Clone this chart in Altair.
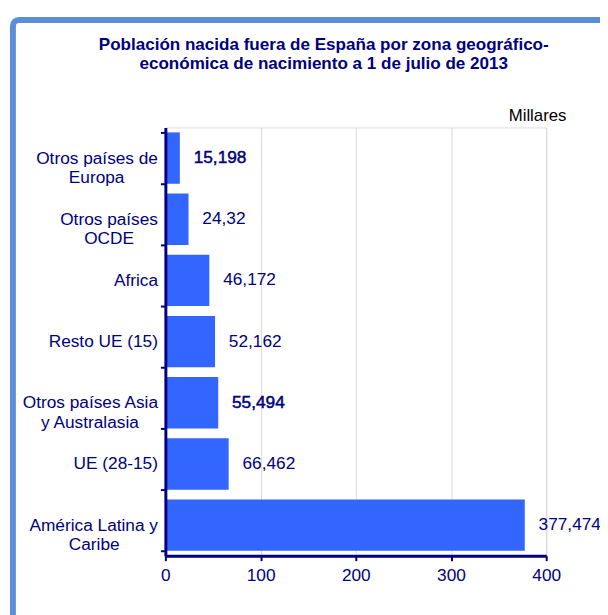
import altair as alt
import pandas as pd

# ---- data ----
categories = [
    "Otros países de Europa",
    "Otros países OCDE",
    "Africa",
    "Resto UE (15)",
    "Otros países Asia y Australasia",
    "UE (28-15)",
    "América Latina y Caribe",
]
values = [15.198, 24.32, 46.172, 52.162, 55.494, 66.462, 377.474]
value_labels = ["15,198", "24,32", "46,172", "52,162", "55,494", "66,462", "377,474"]
# axis label lines (as broken in the original)
label_line1 = ["Otros países de", "Otros países", "Africa", "Resto UE (15)",
               "Otros países Asia", "UE (28-15)", "América Latina y"]
label_line2 = ["Europa", "OCDE", "", "", "y Australasia", "", "Caribe"]
# non-breaking spaces used to centre the second line under the first
line2_pad = [7, 5, 0, 0, 4, 0, 8]
highlighted = ["Otros países de Europa", "Otros países Asia y Australasia"]
x_ticks = [0, 100, 200, 300, 400]
title_lines = ["Población nacida fuera de España por zona geográfico-",
               "económica de nacimiento a 1 de julio de 2013"]
unit_text = "Millares"

NAVY = "#000080"
BAR = "#3366FF"
FRAME = "#5B8ED7"
FONT = "Liberation Sans"

display = []
for l1, l2, p in zip(label_line1, label_line2, line2_pad):
    if l2:
        # trailing zero-width space keeps the padding from being trimmed
        display.append(l1 + "\n" + l2 + "\u00a0" * p + "\u200b")
    else:
        display.append(l1)

df = pd.DataFrame({
    "category": categories,
    "display": display,
    "value": values,
    "label": value_labels,
    "bold": [c in highlighted for c in categories],
})

y_enc = alt.Y(
    "display:N",
    sort=display,
    title=None,
    scale=alt.Scale(paddingInner=0.16, paddingOuter=0.08),
    axis=alt.Axis(
        labelExpr="split(datum.label, '\\n')",
        labelFont=FONT,
        labelFontSize=17.5,
        labelColor=NAVY,
        labelLineHeight=20,
        labelPadding=3,
        labelLimit=300,
        domainColor=NAVY,
        domainWidth=3,
        tickColor=NAVY,
        tickWidth=2,
        tickSize=5,
        tickBand="extent",
        grid=False,
        zindex=1,
    ),
)

x_enc = alt.X(
    "value:Q",
    title=None,
    scale=alt.Scale(domain=[0, 400], nice=False),
    axis=alt.Axis(
        values=x_ticks,
        labelFont=FONT,
        labelFontSize=17.5,
        labelColor=NAVY,
        labelPadding=6,
        labelFlush=False,
        domainColor=NAVY,
        domainWidth=3,
        tickColor=NAVY,
        tickWidth=2,
        tickSize=5,
        grid=True,
        gridColor="#D9D9D9",
        gridWidth=1,
    ),
)

base = alt.Chart(df)

bars = base.mark_bar(color=BAR).encode(x=x_enc, y=y_enc)

labels_normal = base.transform_filter("!datum.bold").mark_text(
    align="left", baseline="middle", dx=14, font=FONT, fontSize=17.5, color=NAVY
).encode(x="value:Q", y=alt.Y("display:N", sort=display), text="label:N")

labels_bold = base.transform_filter("datum.bold").mark_text(
    align="left", baseline="middle", dx=14, font=FONT, fontSize=17.5, color=NAVY,
    stroke=NAVY, strokeWidth=0.5
).encode(x="value:Q", y=alt.Y("display:N", sort=display), text="label:N")

unit = alt.Chart(pd.DataFrame({"t": [unit_text]})).mark_text(
    align="right", baseline="middle", font=FONT, fontSize=17, color="black"
).encode(text="t:N", x=alt.value(406.5), y=alt.value(-12))

frame = alt.Chart(pd.DataFrame({"f": [0]})).mark_rect(
    fillOpacity=0, stroke=FRAME, strokeWidth=6, cornerRadius=6
).encode(x=alt.value(-154.5), x2=alt.value(470), y=alt.value(-109), y2=alt.value(520))

chart = alt.layer(frame, bars, labels_normal, labels_bold, unit).properties(
    width=386,
    height=434,
    title=alt.TitleParams(
        text=title_lines,
        font=FONT,
        fontSize=17.3,
        fontWeight="bold",
        color=NAVY,
        anchor="middle",
        frame="group",
        baseline="alphabetic",
        lineHeight=20,
        dx=-32.5,
        offset=-70.5,
    ),
    autosize=alt.AutoSizeParams(type="none"),
    padding={"left": 159.5, "top": 117, "right": 54.5, "bottom": 56},
).configure_view(stroke=None).configure(background="white")

chart.save("out.html", embed_options={"renderer": "svg", "actions": False})
